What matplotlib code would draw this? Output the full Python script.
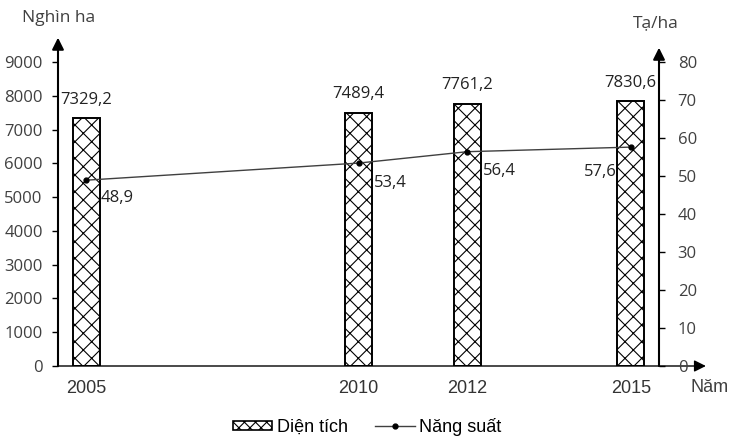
import matplotlib
matplotlib.use("Agg")
import matplotlib.pyplot as plt
from matplotlib.patches import Patch
from matplotlib.lines import Line2D

years = [2005, 2010, 2012, 2015]
area = [7329.2, 7489.4, 7761.2, 7830.6]
yield_ = [48.9, 53.4, 56.4, 57.6]
area_labels = ["7329,2", "7489,4", "7761,2", "7830,6"]
yield_labels = ["48,9", "53,4", "56,4", "57,6"]
left_ticks = [0, 1000, 2000, 3000, 4000, 5000, 6000, 7000, 8000, 9000]
right_ticks = [0, 10, 20, 30, 40, 50, 60, 70, 80]

plt.rcParams['hatch.linewidth'] = 0.8
NUM_FONT = "Open Sans"
TXT_FONT = "Liberation Sans"
GRAY = "#404040"

fig = plt.figure(figsize=(7.35, 4.37), dpi=100)
L, R, B, T = 58/735, 659/735, 1-366/437, 1-62/437
ax = fig.add_axes([L, B, R-L, T-B])
ax2 = ax.twinx()

ax.bar(years, area, width=0.5, facecolor="white", edgecolor="black",
       hatch="xx", linewidth=1.4, zorder=2)
ax.set_xlim(2004.48, 2015.52)
ax.set_ylim(0, 9000)
ax2.set_ylim(0, 80)

ax2.plot(years, yield_, color=GRAY, linewidth=1.0, marker="o",
         markersize=3.5, markerfacecolor="black", markeredgecolor="black", zorder=3)

for s in ["top", "right", "bottom", "left"]:
    ax.spines[s].set_visible(False)
    ax2.spines[s].set_visible(False)

ax.set_xticks([])
ax.set_yticks(left_ticks)
ax.set_yticklabels([str(v) for v in left_ticks], fontfamily=NUM_FONT, fontsize=12, color=GRAY)
ax.tick_params(axis="y", direction="out", length=4, width=1, pad=7)
ax2.set_yticks(right_ticks)
ax2.set_yticklabels([str(v) for v in right_ticks], fontfamily=NUM_FONT, fontsize=12, color=GRAY)
ax2.tick_params(axis="y", direction="out", length=4, width=1, pad=9.5)

# axis arrows
arrow = dict(arrowstyle="-|>,head_width=0.35,head_length=0.7", color="black", lw=1.5,
             shrinkA=0, shrinkB=0)
ax.annotate("", xy=(0, 1.08), xytext=(0, 0), xycoords="axes fraction",
            textcoords="axes fraction", arrowprops=arrow)
ax.annotate("", xy=(1, 1.047), xytext=(1, 0), xycoords="axes fraction",
            textcoords="axes fraction", arrowprops=arrow)
ax.annotate("", xy=(1.078, 0), xytext=(0, 0), xycoords="axes fraction",
            textcoords="axes fraction", arrowprops=dict(arrowstyle="-|>,head_width=0.35,head_length=0.7",
                                                        color="black", lw=1.0, shrinkA=0, shrinkB=0))

# year labels
for x in years:
    ax.annotate(str(x), xy=(x, 0), xytext=(0, -16.5), textcoords="offset points",
                ha="center", va="center", fontfamily=TXT_FONT, fontsize=13, color="#333333",
                annotation_clip=False)
fig.text(691/735, 1-388/437, "Năm", fontfamily=TXT_FONT, fontsize=13, color=GRAY,
         ha="left", va="center")
fig.text(22/735, 1-18/437, "Nghìn ha", fontfamily=NUM_FONT, fontsize=12.5, color=GRAY,
         ha="left", va="center")
fig.text(633/735, 1-23/437, "Tạ/ha", fontfamily=NUM_FONT, fontsize=12.5, color=GRAY,
         ha="left", va="center")

# bar labels
for x, v, lab in zip(years, area, area_labels):
    ax.annotate(lab, xy=(x, v), xytext=(0, 13.5), textcoords="offset points",
                ha="center", va="center", fontfamily=NUM_FONT, fontsize=12, color="#222222")

# line labels
offsets = [(10, -13), (11, -14), (11, -14), (-10, -18)]
for x, v, lab, (dx, dy) in zip(years, yield_, yield_labels, offsets):
    ax2.annotate(lab, xy=(x, v), xytext=(dx, dy), textcoords="offset points",
                 ha="left" if dx > 0 else "right", va="center",
                 fontfamily=NUM_FONT, fontsize=12, color="#222222")

handles = [Patch(facecolor="white", edgecolor="black", hatch="xxx", linewidth=1.2),
           Line2D([0], [0], color=GRAY, lw=1.0, marker="o", markersize=3.5,
                  markerfacecolor="black", markeredgecolor="black")]
fig.legend(handles, ["Diện tích", "Năng suất"], loc="center", bbox_to_anchor=(367/735, 1-427/437),
           ncol=2, frameon=False, prop={"family": TXT_FONT, "size": 13},
           handlelength=2.2, handleheight=0.45, columnspacing=1.5, handletextpad=0.25)

fig.savefig("out.png", dpi=100)
